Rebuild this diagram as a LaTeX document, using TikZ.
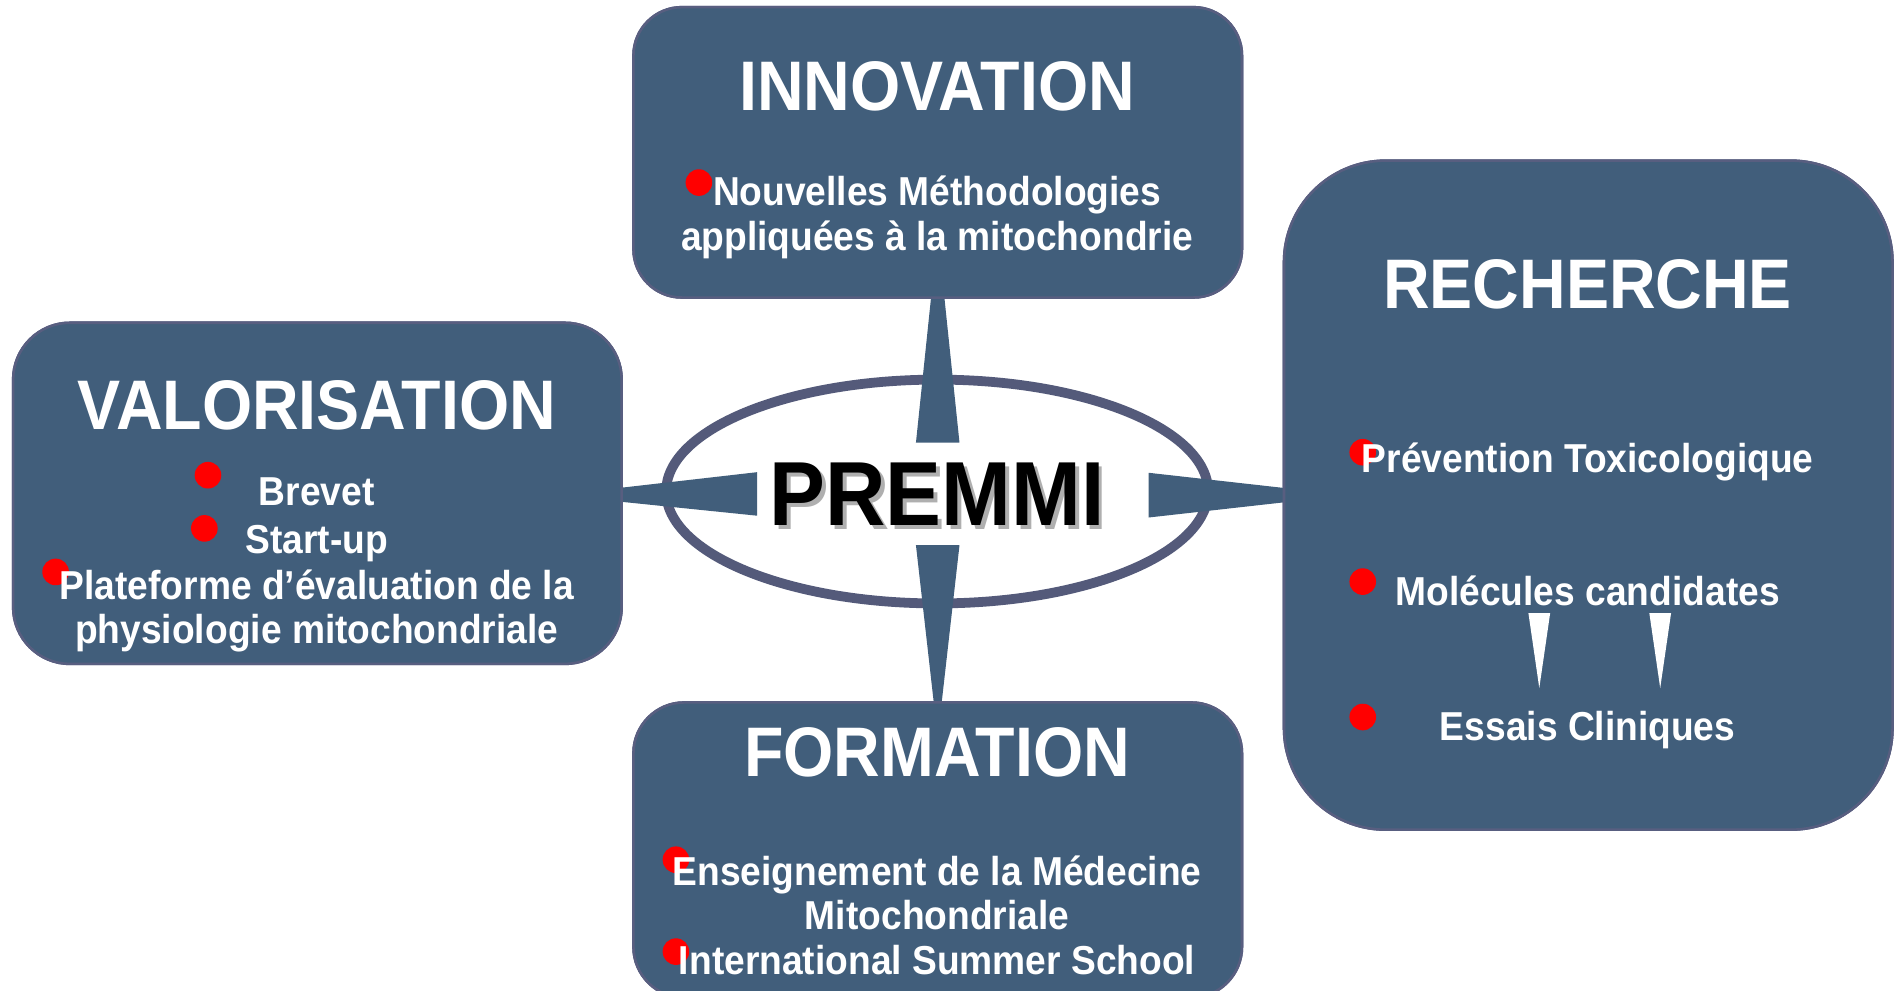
\documentclass[tikz,border=0pt]{standalone}
\usepackage{fontspec}
\setmainfont{Liberation Sans}[FakeStretch=0.92]
\usetikzlibrary{calc,shapes.geometric}
\definecolor{boxblue}{RGB}{65,94,123}
\definecolor{boxedge}{RGB}{88,94,128}
\definecolor{ringcol}{RGB}{84,90,122}
\definecolor{dotred}{RGB}{255,0,0}
\definecolor{shadowgray}{RGB}{175,175,175}
\begin{document}
\begin{tikzpicture}[x=0.01cm,y=-0.01cm,
  box/.style={draw=boxedge, line width=0.6pt, fill=boxblue, outer sep=0pt, inner sep=0pt, minimum width=5.03cm},
  title/.style={text=white, font=\fontsize{16.5}{18}\selectfont\bfseries, anchor=base, inner sep=0pt},
  item/.style={text=white, font=\fontsize{9.5}{10.5}\selectfont\bfseries, anchor=base, inner sep=0pt},
  dot/.style={circle, fill=dotred, minimum size=0.22cm, inner sep=0pt},
  spike/.style={fill=boxblue},
  wspike/.style={fill=white},
  bigword/.style={font=\fontsize{21.4}{24}\selectfont\bfseries, anchor=base, inner sep=0pt}]

\useasboundingbox (0,0) rectangle (1568,819);
\clip (0,0) rectangle (1568,819);
\fill[white] (0,0) rectangle (1568,819);

% central ring
\node[ellipse, draw=ringcol, line width=2.3pt, fill=white, minimum width=4.48cm, minimum height=1.85cm, inner sep=0pt] (core) at (775,406.5) {};

% boxes (nodes) -- positioned first so spikes can refer to them
\path
  node[box, minimum height=2.40cm, rounded corners=0.40cm] (innov) at (775.5,126) {}
  node[box, minimum height=5.53cm, rounded corners=0.84cm] (rech) at (1313.5,409.5) {}
  node[box, minimum height=2.82cm, rounded corners=0.47cm] (valor) at (262.5,408) {}
  node[box, minimum height=2.44cm, rounded corners=0.42cm] (form) at (775.5,703) {};

% spikes (connectors from the ring to the boxes)
\fill[spike] ($(innov.south)+(0,-53)$) -- ($(innov.south)+(-18,120)$) -- ($(innov.south)+(18,120)$) -- cycle;
\fill[spike] ($(form.north)+(0,29)$) -- ($(form.north)+(-18,-130)$) -- ($(form.north)+(18,-130)$) -- cycle;
\fill[spike] ($(valor.east)+(-54,1.5)$) -- ($(valor.east)+(112,-17.5)$) -- ($(valor.east)+(112,18.5)$) -- cycle;
\fill[spike] ($(rech.west)+(53,0)$) -- ($(rech.west)+(-112,-18.5)$) -- ($(rech.west)+(-112,18.5)$) -- cycle;

% redraw boxes on top of spike ends
\path
  node[box, minimum height=2.40cm, rounded corners=0.40cm] (innovtop) at (innov) {}
  node[box, minimum height=5.53cm, rounded corners=0.84cm] (rechtop) at (rech) {}
  node[box, minimum height=2.82cm, rounded corners=0.47cm] (valortop) at (valor) {}
  node[box, minimum height=2.44cm, rounded corners=0.42cm] (formtop) at (form) {};

% PREMMI
\node[bigword, text=shadowgray] (premmishadow) at (778,438) {PREMMI};
\node[bigword, text=black] (premmi) at (775,435) {PREMMI};

% INNOVATION
\node[title] (tinnov) at (775,91) {INNOVATION};
\node[dot] (d1) at (578,151) {};
\node[item] (i1a) at (775,170) {Nouvelles Méthodologies};
\node[item] (i1b) at (775,207) {appliquées à la mitochondrie};

% VALORISATION
\node[title] (tvalor) at (262,355) {VALORISATION};
\node[dot] (d2) at (172,393) {};
\node[item] (v1) at (262,418) {Brevet};
\node[dot] (d3) at (169,437) {};
\node[item] (v2) at (262,458) {Start-up};
\node[dot] (d4) at (46,473) {};
\node[item] (v3a) at (262,496) {Plateforme d’évaluation de la};
\node[item] (v3b) at (262,532) {physiologie mitochondriale};

% RECHERCHE
\node[title] (trech) at (1313,255) {RECHERCHE};
\node[dot] (d5) at (1127,374) {};
\node[item] (r1) at (1313,391) {Prévention Toxicologique};
\node[dot] (d6) at (1127,481) {};
\node[item] (r2) at (1313,501) {Molécules candidates};
\fill[wspike] (1264,507) -- (1282,507) -- (1273,569) -- cycle;
\fill[wspike] (1364,507) -- (1382,507) -- (1373,569) -- cycle;
\node[dot] (d7) at (1127,593) {};
\node[item] (r3) at (1313,612) {Essais Cliniques};

% FORMATION
\node[title] (tform) at (775,642) {FORMATION};
\node[dot] (d8) at (559,711) {};
\node[item] (f1a) at (775,732) {Enseignement de la Médecine};
\node[item] (f1b) at (775,769) {Mitochondriale};
\node[dot] (d9) at (559,787) {};
\node[item] (f2) at (775,806) {International Summer School};
\end{tikzpicture}
\end{document}
